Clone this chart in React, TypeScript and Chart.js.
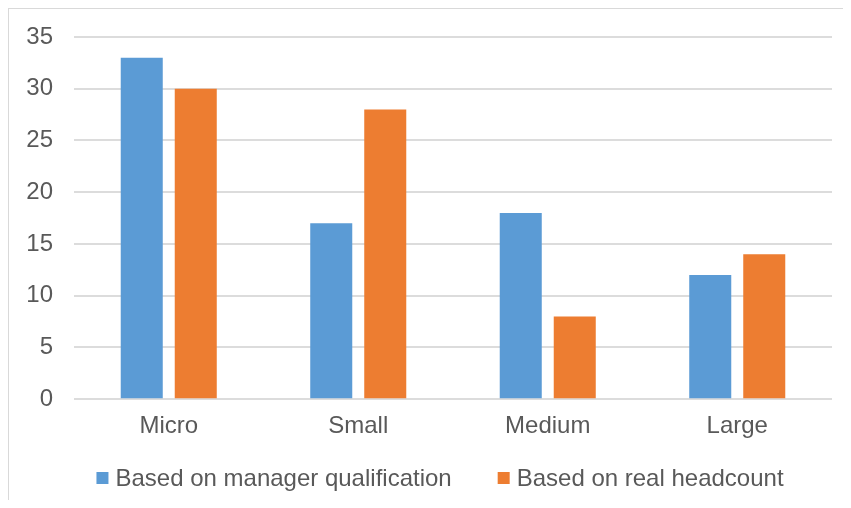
import React, { useEffect, useRef } from "react";
import { Chart, registerables } from "chart.js";

Chart.register(...registerables);

const categories = ["Micro", "Small", "Medium", "Large"];
const managerQualification = [33, 17, 18, 12];
const realHeadcount = [30, 28, 8, 14];
const seriesLabels = ["Based on manager qualification", "Based on real headcount"];
const seriesColors = ["#5B9BD5", "#ED7D31"];

const FONT = "'Liberation Sans', Arial, sans-serif";
const TEXT = "#595959";

// Excel-style legend: small square swatch followed by the series name, centred below the axis
const bottomLegend = {
  id: "bottomLegend",
  afterDraw(chart: any) {
    const ctx = chart.ctx as CanvasRenderingContext2D;
    const sets = chart.data.datasets;
    const box = 12;
    const gap = 7;
    const spacing = 46;
    ctx.save();
    ctx.font = `24px ${FONT}`;
    const widths = sets.map((d: any) => ctx.measureText(d.label).width);
    const total =
      widths.reduce((a: number, w: number) => a + box + gap + w, 0) + spacing * (sets.length - 1);
    let x = 431 - total / 2;
    const y = 469;
    sets.forEach((d: any, i: number) => {
      ctx.fillStyle = d.backgroundColor;
      ctx.fillRect(x, y - box / 2, box, box);
      ctx.fillStyle = TEXT;
      ctx.textBaseline = "middle";
      ctx.textAlign = "left";
      ctx.fillText(d.label, x + box + gap, y + 1);
      x += box + gap + widths[i] + spacing;
    });
    ctx.restore();
  },
};

export default function App() {
  const canvasRef = useRef<HTMLCanvasElement | null>(null);

  useEffect(() => {
    if (!canvasRef.current) return;
    const chart = new Chart(canvasRef.current, {
      type: "bar",
      data: {
        labels: categories,
        datasets: [
          {
            label: seriesLabels[0],
            data: managerQualification,
            backgroundColor: seriesColors[0],
            categoryPercentage: 0.57,
            barPercentage: 0.778,
          },
          {
            label: seriesLabels[1],
            data: realHeadcount,
            backgroundColor: seriesColors[1],
            categoryPercentage: 0.57,
            barPercentage: 0.778,
          },
        ],
      },
      options: {
        animation: false,
        responsive: true,
        maintainAspectRatio: false,
        layout: { padding: { left: 0, right: 19, top: 28, bottom: 54 } },
        plugins: {
          legend: { display: false },
          tooltip: { enabled: false },
        },
        scales: {
          x: {
            grid: { display: false, drawTicks: false },
            border: { display: false },
            ticks: {
              color: TEXT,
              font: { family: FONT, size: 24 },
              padding: 13,
            },
          },
          y: {
            min: 0,
            max: 35,
            ticks: {
              stepSize: 5,
              color: TEXT,
              font: { family: FONT, size: 24 },
              padding: 21,
            },
            grid: { color: "#dcdcdc", lineWidth: 2, drawTicks: false },
            border: { display: false },
            afterFit(scale: any) {
              scale.width = 65;
              scale.paddingTop = 0;
              scale.paddingBottom = 0;
            },
          },
        },
      },
      plugins: [bottomLegend],
    });
    return () => chart.destroy();
  }, []);

  return (
    <div
      style={{
        borderTop: "1px solid #d9d9d9",
        borderLeft: "1px solid #d9d9d9",
        height: 499,
        marginRight: -8,
        marginBottom: -8,
        background: "#fff",
      }}
    >
      <div style={{ position: "relative", width: "100%", height: 499 }}>
        <canvas ref={canvasRef} />
      </div>
    </div>
  );
}
